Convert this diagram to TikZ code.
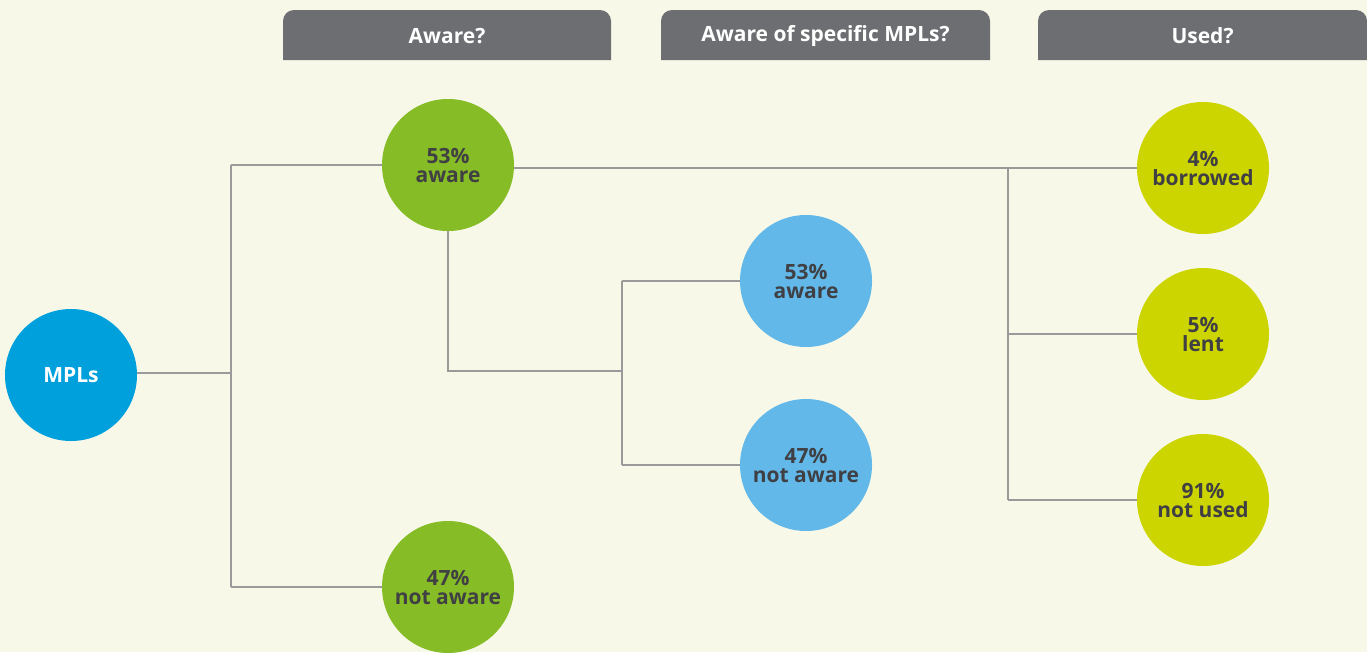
\documentclass[tikz,border=0pt]{standalone}
\usepackage{fontspec}
\setmainfont{Open Sans}
\usetikzlibrary{backgrounds}
\definecolor{bg}{HTML}{F7F8E8}
\definecolor{tabgray}{HTML}{6C6E71}
\definecolor{mplblue}{HTML}{00A0DD}
\definecolor{agreen}{HTML}{86BC25}
\definecolor{lblue}{HTML}{62B9E9}
\definecolor{ayellow}{HTML}{CDD500}
\definecolor{txtdark}{HTML}{404044}
\definecolor{linegray}{HTML}{9A9A9A}
\begin{document}
\begin{tikzpicture}[x=1pt,y=-1pt,
  bubble/.style={circle,minimum size=132pt,inner sep=0pt,align=center,
    font=\fontsize{21}{19}\selectfont\bfseries,text=txtdark},
  tabtext/.style={font=\fontsize{21}{24}\selectfont\bfseries,text=white},
  conn/.style={draw=linegray,line width=1.3pt}]
% tabs
\fill[tabgray] (283,60) {[rounded corners=11pt] -- (283,10) -- (611,10)} -- (611,60) -- cycle;
\fill[tabgray] (661,60) {[rounded corners=11pt] -- (661,10) -- (990,10)} -- (990,60) -- cycle;
\fill[tabgray] (1038,60) {[rounded corners=11pt] -- (1038,10) -- (1367,10)} -- (1367,60) -- cycle;
\node[tabtext] (t1) at (447,36) {Aware?};
\node[tabtext] (t2) at (825.5,36) {Aware of specific MPLs?};
\node[tabtext] (t3) at (1202.5,36) {Used?};
% bubbles
\node[bubble,fill=mplblue,text=white] (mpl) at (71,375) {MPLs};
\node[bubble,fill=agreen] (a53) at (448,165) {53\%\\aware};
\node[bubble,fill=agreen] (a47) at (448,587) {47\%\\not aware};
\node[bubble,fill=lblue] (s53) at (806,281) {53\%\\aware};
\node[bubble,fill=lblue] (s47) at (806,465) {47\%\\not aware};
\node[bubble,fill=ayellow] (u4) at (1203,168) {4\%\\borrowed};
\node[bubble,fill=ayellow] (u5) at (1203,334) {5\%\\lent};
\node[bubble,fill=ayellow] (u91) at (1203,500) {91\%\\not used};
% junction coordinates
\coordinate (j1) at (231,373);
\coordinate (j2) at (622,371);
\coordinate (j3) at (1008,168);
% connectors
\begin{scope}[on background layer]
\fill[bg] (0,0) rectangle (1367,652);
\draw[conn] (mpl.center |- j1) -- (j1);
\draw[conn] (j1 |- a53.west) -- (j1 |- a47.west);
\draw[conn] (j1 |- a53.west) -- (a53.center);
\draw[conn] (j1 |- a47.west) -- (a47.center);
\draw[conn] (a53.center |- j3) -- (u4.center);
\draw[conn] (j3) -- (j3 |- u91.west);
\draw[conn] (j3 |- u5.west) -- (u5.center);
\draw[conn] (j3 |- u91.west) -- (u91.center);
\draw[conn] (a53.center) -- (a53.center |- j2) -- (j2);
\draw[conn] (j2 |- s53.west) -- (j2 |- s47.west);
\draw[conn] (j2 |- s53.west) -- (s53.center);
\draw[conn] (j2 |- s47.west) -- (s47.center);
\end{scope}
\useasboundingbox (0,0) rectangle (1367,652);
\end{tikzpicture}
\end{document}
